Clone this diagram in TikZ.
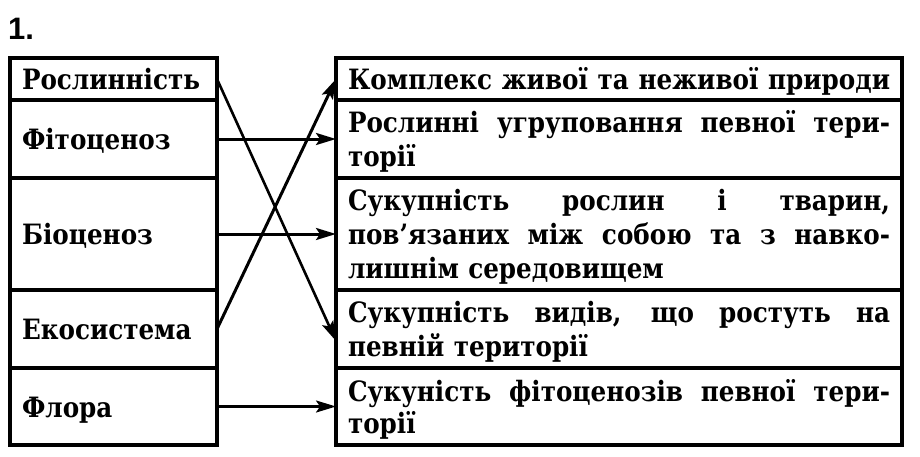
\documentclass[tikz,border=0pt]{standalone}
\usepackage{fontspec}
\setmainfont{DejaVu Serif}[FakeStretch=0.88]
\newfontfamily\numfont{Liberation Sans}
\usetikzlibrary{arrows.meta}
\newcommand\jl[1]{\makebox[\linewidth][s]{\spaceskip=.3em plus 20em minus .05em\relax #1}}
\begin{document}
\begin{tikzpicture}[x=1pt,y=-1pt,
  txt/.style={font=\bfseries\fontsize{28}{34}\selectfont},
  lbox/.style={txt, draw, line width=3.2pt, outer sep=0pt, anchor=north west,
    text width=183pt, inner xsep=12pt, inner ysep=0pt, align=left,
    text height=21pt, text depth=0pt},
  rbox/.style={lbox, text width=542pt},
  link/.style={line width=3pt, -{Stealth[length=20pt,width=12pt,inset=4pt]}}
]
\useasboundingbox (0,0) rectangle (920,456);
\node[font=\numfont\bfseries\fontsize{31}{31}\selectfont, anchor=base west, inner sep=0pt] (num) at (8,39) {1.};
% left column
\node[lbox, minimum height=42pt]  (l1) at (10,58)  {Рослинність};
\node[lbox, minimum height=78pt]  (l2) at (10,100) {Фітоценоз};
\node[lbox, minimum height=112pt] (l3) at (10,178) {Біоценоз};
\node[lbox, minimum height=78pt]  (l4) at (10,290) {Екосистема};
\node[lbox, minimum height=77pt]  (l5) at (10,368) {Флора};
% right column
\node[rbox, minimum height=42pt] (r1) at (336,58) {\jl{Комплекс живої та неживої природи}};
\node[rbox, minimum height=78pt, text depth=34pt] (r2) at (336,100) {\jl{Рослинні угруповання певної тери-}\\торії};
\node[rbox, minimum height=112pt, text depth=68pt] (r3) at (336,178) {\jl{Сукупність рослин і тварин,}\\\jl{пов’язаних між собою та з навко-}\\лишнім середовищем};
\node[rbox, minimum height=78pt, text depth=34pt] (r4) at (336,290) {\jl{Сукупність видів, що ростуть на}\\певній території};
\node[rbox, minimum height=77pt, text depth=32pt] (r5) at (336,368) {\jl{Сукуність фітоценозів певної тери-}\\[-2pt]торії};
% connectors
\draw[link, line width=2.6pt] (l1.east) -- ([yshift=-12pt]r4.west);
\draw[link] (l2.east) -- (l2.east -| r2.west);
\draw[link] (l3.east) -- (l3.east -| r3.west);
\draw[link] (l4.east) -- (r1.west);
\draw[link, line width=2.2pt] (l5.east) -- (l5.east -| r5.west);
\end{tikzpicture}
\end{document}
